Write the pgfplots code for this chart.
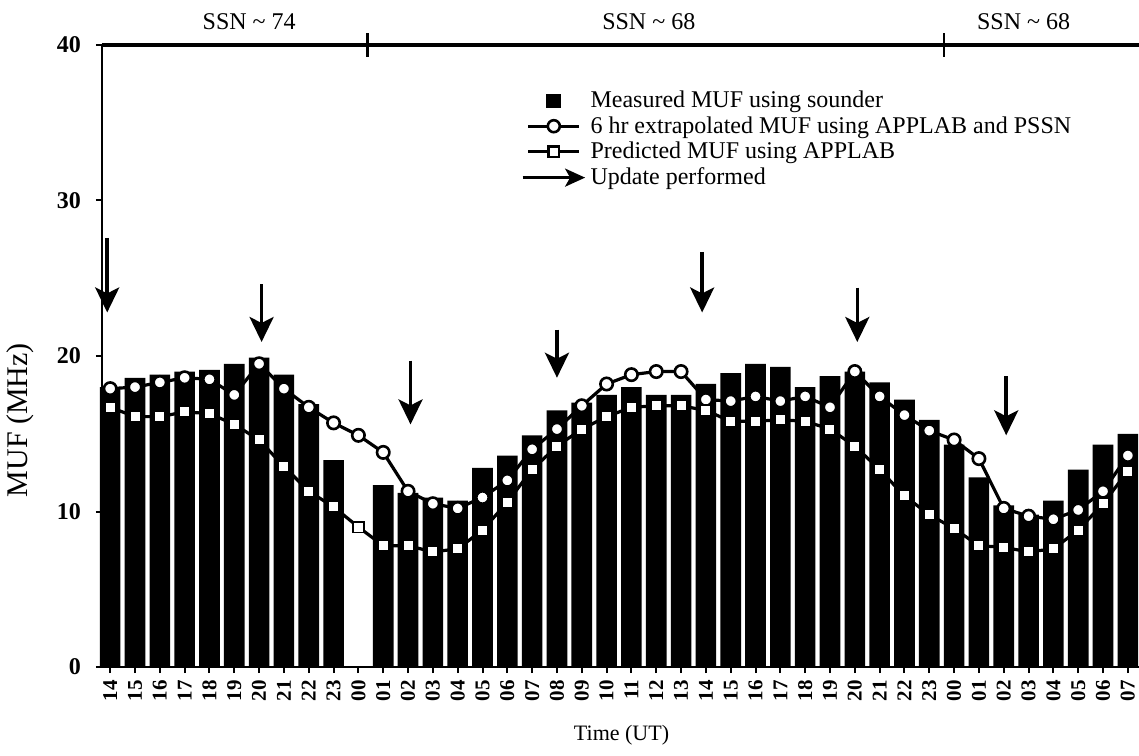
\documentclass[border=0pt]{standalone}
\usepackage{fontspec}
\setmainfont{Liberation Serif}
\usepackage{pgfplots}
\usepackage{pgfplotstable}
\pgfplotsset{compat=1.18}
\usetikzlibrary{arrows.meta}

% hour index, measured MUF, 6 hr extrapolated, predicted (MHz)
\pgfplotstableread{
x  muf  ext  pred
0  18.0 17.9 16.7
1  18.6 18.0 16.1
2  18.8 18.3 16.1
3  19.0 18.6 16.4
4  19.1 18.5 16.3
5  19.5 17.5 15.6
6  19.9 19.5 14.6
7  18.8 17.9 12.9
8  16.9 16.7 11.3
9  13.3 15.7 10.3
10 nan  14.9 9.0
11 11.7 13.8 7.8
12 11.2 11.3 7.8
13 10.9 10.5 7.4
14 10.7 10.2 7.6
15 12.8 10.9 8.8
16 13.6 12.0 10.6
17 14.9 14.0 12.7
18 16.5 15.3 14.2
19 17.0 16.8 15.3
20 17.5 18.2 16.1
21 18.0 18.8 16.7
22 17.5 19.0 16.8
23 17.5 19.0 16.8
24 18.2 17.2 16.5
25 18.9 17.1 15.8
26 19.5 17.4 15.8
27 19.3 17.1 15.9
28 18.0 17.4 15.8
29 18.7 16.7 15.3
30 19.0 19.0 14.2
31 18.3 17.4 12.7
32 17.2 16.2 11.0
33 15.9 15.2 9.8
34 14.3 14.6 8.9
35 12.2 13.4 7.8
36 10.4 10.2 7.7
37 9.8  9.7  7.4
38 10.7 9.5  7.6
39 12.7 10.1 8.8
40 14.3 11.3 10.5
41 15.0 13.6 12.6
}\mufdata

% update arrows: start point and drop
\pgfplotstableread{
x     y    v
-0.12 27.6 -4.8
6.1   24.6 -3.7
12.1  19.7 -4.1
18.0  21.7 -3.1
23.85 26.7 -3.9
30.1  24.4 -3.5
36.1  18.7 -3.8
}\updates

\pgfplotsset{
  barleg/.style={legend image code/.code={\fill[black] (0.42cm,-0.13cm) rectangle (0.67cm,0.12cm);}},
  circleleg/.style={legend image code/.code={
    \draw[black, line width=1.4pt] (0.1cm,0cm) -- (1.0cm,0cm);
    \draw[black, line width=1.3pt, fill=white] (0.55cm,0cm) circle (3pt);}},
  squareleg/.style={legend image code/.code={
    \draw[black, line width=1.4pt] (0.1cm,0cm) -- (1.0cm,0cm);
    \draw[black, line width=1.2pt, fill=white] (0.55cm,0cm) ++(-2.7pt,-2.7pt) rectangle ++(5.4pt,5.4pt);}},
  arrowleg/.style={legend image code/.code={
    \draw[black, line width=1.4pt, -{Stealth[length=10pt, width=9pt, inset=2.5pt]}] (0cm,0cm) -- (1.1cm,0cm);}},
}

\begin{document}
\begin{tikzpicture}
\begin{axis}[
  width=518.5pt, height=311pt, scale only axis,
  xmin=-0.33, xmax=41.45, ymin=0, ymax=40,
  axis lines*=left,
  axis line style={line width=1pt},
  tick align=outside,
  major tick length=3pt,
  tick style={line width=1pt, black},
  xtick={0,...,41},
  xticklabels={14,15,16,17,18,19,20,21,22,23,00,01,02,03,04,05,06,07,08,09,10,11,12,13,14,15,16,17,18,19,20,21,22,23,00,01,02,03,04,05,06,07},
  xticklabel style={rotate=90, anchor=east, font=\fontsize{10.5}{12}\selectfont\bfseries},
  ytick={0,10,20,30,40},
  yticklabel style={font=\fontsize{12}{13}\selectfont\bfseries, xshift=-4pt},
  /pgf/number format/assume math mode=true,
  xlabel={Time (UT)},
  ylabel={MUF (MHz)},
  xlabel style={at={(axis description cs:0.501,-0.109)}, anchor=center, font=\fontsize{11}{12}\selectfont},
  ylabel style={at={(axis description cs:-0.079,0.397)}, anchor=center, font=\fontsize{15}{17}\selectfont},
  clip=false,
  legend style={draw=none, fill=none, at={(axis description cs:0.398,0.94)}, anchor=north west,
    font=\fontsize{12}{14}\selectfont, row sep=-1pt, legend cell align=left,
    /tikz/every even column/.append style={column sep=3pt}},
]
\coordinate (SW) at (rel axis cs:0,0);
\coordinate (NE) at (rel axis cs:1,1);

\addplot[ybar, bar width=0.83, fill=black, draw=none, barleg]
  table[x=x, y=muf] {\mufdata};
\addlegendentry{Measured MUF using sounder}

\addplot[black, line width=1.6pt, mark=*, mark size=3.1pt,
  mark options={fill=white, line width=1.3pt}, circleleg]
  table[x=x, y=ext] {\mufdata};
\addlegendentry{6 hr extrapolated MUF using APPLAB and PSSN}

\addplot[black, line width=1.6pt, mark=square*, mark size=2.7pt,
  mark options={fill=white, line width=0.9pt}, squareleg]
  table[x=x, y=pred] {\mufdata};
\addlegendentry{Predicted MUF using APPLAB}

\addplot[black, line width=1.8pt, quiver={u=0, v=\thisrow{v}},
  -{Stealth[length=12.5pt, width=12pt, inset=3pt]}, arrowleg]
  table[x=x, y=y] {\updates};
\addlegendentry{Update performed}

% top line with SSN period separators
\draw[line width=2pt] (rel axis cs:0,1) -- (rel axis cs:1,1);
\draw[line width=1.3pt] (axis cs:10.36,40) ++(0pt,-6pt) -- ++(0pt,12pt);
\draw[line width=1.3pt] (axis cs:33.6,40) ++(0pt,-6pt) -- ++(0pt,12pt);
\node[font=\fontsize{12}{14}\selectfont] at (axis cs:5.6,41.5) {SSN \textasciitilde\ 74};
\node[font=\fontsize{12}{14}\selectfont] at (axis cs:21.7,41.5) {SSN \textasciitilde\ 68};
\node[font=\fontsize{12}{14}\selectfont] at (axis cs:36.8,41.5) {SSN \textasciitilde\ 68};
\end{axis}
\pgfresetboundingbox
\path ([shift={(-51pt,-44pt)}]SW) rectangle ([shift={(0pt,22.5pt)}]NE);
\end{tikzpicture}
\end{document}
